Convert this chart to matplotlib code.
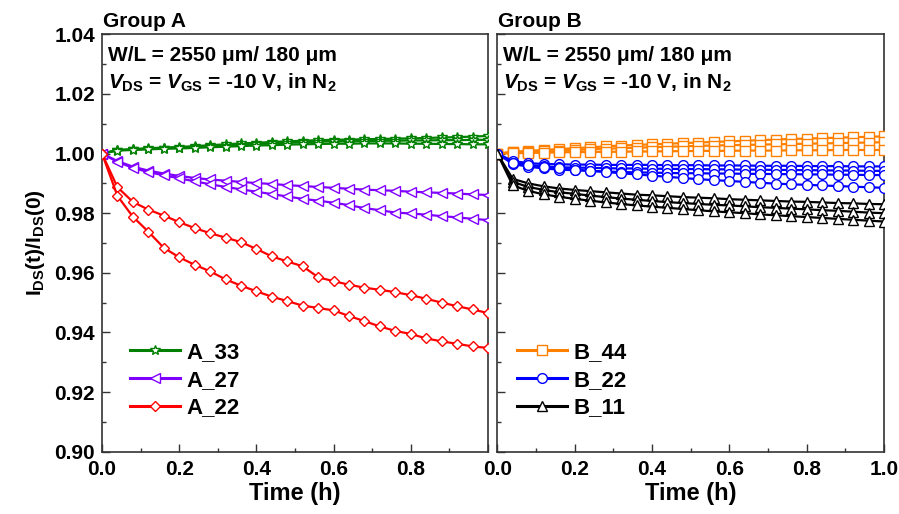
import matplotlib
matplotlib.use("Agg")
import matplotlib.pyplot as plt
from matplotlib.ticker import MultipleLocator, FixedLocator, FixedFormatter, FormatStrFormatter

plt.rcParams['font.family'] = ['Liberation Sans', 'DejaVu Sans']
plt.rcParams['font.weight'] = 'bold'
plt.rcParams['mathtext.fontset'] = 'custom'
plt.rcParams['mathtext.rm'] = 'Liberation Sans:bold'
plt.rcParams['mathtext.bf'] = 'Liberation Sans:bold'
plt.rcParams['mathtext.it'] = 'Liberation Sans:bold:italic'

# time grid (h)
time_h = [0.00, 0.04, 0.08, 0.12, 0.16, 0.20, 0.24, 0.28, 0.32, 0.36, 0.40,
          0.44, 0.48, 0.52, 0.56, 0.60, 0.64, 0.68, 0.72, 0.76, 0.80, 0.84,
          0.88, 0.92, 0.96, 1.00]

# Group A : normalised drain current I_DS(t)/I_DS(0)
a33_1 = [1.0000, 1.0012, 1.0015, 1.0018, 1.0020, 1.0022, 1.0025, 1.0028, 1.0031, 1.0034, 1.0036,
         1.0039, 1.0041, 1.0043, 1.0045, 1.0046, 1.0047, 1.0048, 1.0049, 1.0050, 1.0051, 1.0052,
         1.0054, 1.0055, 1.0057, 1.0059]
a33_2 = [1.0000, 1.0011, 1.0014, 1.0016, 1.0018, 1.0020, 1.0022, 1.0025, 1.0027, 1.0030, 1.0032,
         1.0034, 1.0036, 1.0038, 1.0040, 1.0041, 1.0041, 1.0042, 1.0043, 1.0043, 1.0044, 1.0044,
         1.0045, 1.0045, 1.0046, 1.0046]
a33_3 = [1.0000, 1.0010, 1.0012, 1.0014, 1.0016, 1.0017, 1.0019, 1.0021, 1.0023, 1.0025, 1.0027,
         1.0028, 1.0030, 1.0031, 1.0032, 1.0033, 1.0033, 1.0034, 1.0034, 1.0034, 1.0033, 1.0033,
         1.0032, 1.0032, 1.0031, 1.0031]
a27_1 = [1.0000, 0.9975, 0.9956, 0.9943, 0.9933, 0.9925, 0.9918, 0.9913, 0.9909, 0.9905, 0.9901,
         0.9898, 0.9894, 0.9891, 0.9888, 0.9885, 0.9882, 0.9879, 0.9877, 0.9875, 0.9872, 0.9870,
         0.9868, 0.9866, 0.9863, 0.9861]
a27_2 = [1.0000, 0.9972, 0.9952, 0.9938, 0.9927, 0.9917, 0.9907, 0.9897, 0.9888, 0.9880, 0.9872,
         0.9864, 0.9856, 0.9848, 0.9842, 0.9835, 0.9827, 0.9817, 0.9810, 0.9802, 0.9799, 0.9795,
         0.9790, 0.9786, 0.9781, 0.9777]
a22_1 = [1.0000, 0.9887, 0.9838, 0.9812, 0.9792, 0.9770, 0.9750, 0.9733, 0.9718, 0.9703, 0.9680,
         0.9655, 0.9638, 0.9622, 0.9585, 0.9572, 0.9560, 0.9550, 0.9543, 0.9535, 0.9525, 0.9513,
         0.9500, 0.9488, 0.9477, 0.9465]
a22_2 = [1.0000, 0.9858, 0.9788, 0.9738, 0.9684, 0.9652, 0.9627, 0.9605, 0.9578, 0.9557, 0.9538,
         0.9520, 0.9505, 0.9490, 0.9482, 0.9474, 0.9455, 0.9438, 0.9420, 0.9405, 0.9395, 0.9380,
         0.9370, 0.9362, 0.9353, 0.9348]

# Group B
b44_1 = [1.0000, 1.0006, 1.0009, 1.0012, 1.0015, 1.0018, 1.0021, 1.0024, 1.0027, 1.0029, 1.0031,
         1.0033, 1.0035, 1.0037, 1.0039, 1.0041, 1.0043, 1.0045, 1.0047, 1.0049, 1.0050, 1.0052,
         1.0053, 1.0055, 1.0056, 1.0058]
b44_2 = [1.0000, 1.0004, 1.0006, 1.0008, 1.0010, 1.0012, 1.0014, 1.0016, 1.0018, 1.0020, 1.0021,
         1.0023, 1.0024, 1.0026, 1.0027, 1.0028, 1.0029, 1.0030, 1.0031, 1.0032, 1.0033, 1.0034,
         1.0035, 1.0036, 1.0037, 1.0038]
b44_3 = [1.0000, 1.0001, 1.0002, 1.0003, 1.0004, 1.0005, 1.0005, 1.0006, 1.0006, 1.0007, 1.0007,
         1.0008, 1.0008, 1.0009, 1.0009, 1.0009, 1.0010, 1.0010, 1.0010, 1.0011, 1.0011, 1.0011,
         1.0012, 1.0012, 1.0012, 1.0012]
b22_1 = [1.0000, 0.9975, 0.9968, 0.9965, 0.9964, 0.9963, 0.9963, 0.9962, 0.9962, 0.9962, 0.9962,
         0.9961, 0.9961, 0.9961, 0.9960, 0.9960, 0.9960, 0.9959, 0.9959, 0.9959, 0.9958, 0.9958,
         0.9958, 0.9957, 0.9957, 0.9957]
b22_2 = [1.0000, 0.9970, 0.9962, 0.9957, 0.9954, 0.9953, 0.9952, 0.9951, 0.9950, 0.9950, 0.9949,
         0.9949, 0.9948, 0.9948, 0.9947, 0.9947, 0.9946, 0.9946, 0.9945, 0.9945, 0.9944, 0.9944,
         0.9943, 0.9943, 0.9942, 0.9942]
b22_3 = [1.0000, 0.9965, 0.9956, 0.9950, 0.9946, 0.9944, 0.9942, 0.9940, 0.9938, 0.9937, 0.9936,
         0.9935, 0.9934, 0.9934, 0.9933, 0.9933, 0.9932, 0.9932, 0.9931, 0.9931, 0.9930, 0.9930,
         0.9929, 0.9929, 0.9928, 0.9928]
b22_4 = [1.0000, 0.9968, 0.9960, 0.9954, 0.9950, 0.9946, 0.9942, 0.9938, 0.9934, 0.9930, 0.9926,
         0.9922, 0.9918, 0.9914, 0.9911, 0.9908, 0.9905, 0.9902, 0.9899, 0.9897, 0.9895, 0.9893,
         0.9891, 0.9889, 0.9887, 0.9885]
b11_1 = [1.0000, 0.9915, 0.9900, 0.9890, 0.9883, 0.9878, 0.9874, 0.9870, 0.9866, 0.9862, 0.9860,
         0.9857, 0.9854, 0.9852, 0.9850, 0.9847, 0.9845, 0.9843, 0.9841, 0.9839, 0.9838, 0.9836,
         0.9834, 0.9833, 0.9831, 0.9830]
b11_2 = [1.0000, 0.9905, 0.9888, 0.9878, 0.9870, 0.9865, 0.9859, 0.9854, 0.9849, 0.9845, 0.9841,
         0.9837, 0.9834, 0.9831, 0.9828, 0.9826, 0.9823, 0.9820, 0.9818, 0.9815, 0.9813, 0.9810,
         0.9808, 0.9805, 0.9802, 0.9800]
b11_3 = [1.0000, 0.9893, 0.9875, 0.9863, 0.9855, 0.9848, 0.9842, 0.9836, 0.9831, 0.9826, 0.9822,
         0.9818, 0.9814, 0.9810, 0.9806, 0.9803, 0.9800, 0.9796, 0.9793, 0.9790, 0.9787, 0.9784,
         0.9781, 0.9778, 0.9775, 0.9772]

group_a = [
    ("A_33", "#008000", "*", 7.5, [a33_1, a33_2, a33_3]),
    ("A_27", "#8000ff", "<", 7, [a27_1, a27_2]),
    ("A_22", "#ff0000", "D", 5.5, [a22_1, a22_2]),
]
group_b = [
    ("B_44", "#ff8000", "s", 6.5, [b44_1, b44_2, b44_3]),
    ("B_22", "#0000ff", "o", 7, [b22_1, b22_2, b22_3, b22_4]),
    ("B_11", "#000000", "^", 7, [b11_1, b11_2, b11_3]),
]

x_ticks = [0.0, 0.2, 0.4, 0.6, 0.8, 1.0]
x_labels_a = ['0.0', '0.2', '0.4', '0.6', '0.8', '']
x_labels_b = ['0.0', '0.2', '0.4', '0.6', '0.8', '1.0']

W, H = 899, 514
fig = plt.figure(figsize=(W / 100, H / 100), dpi=100)


def fx(px):
    return px / W


def fy(py):
    return 1 - py / H


ax_a = fig.add_axes([fx(102), fy(451.7), 386 / W, 417.4 / H])
ax_b = fig.add_axes([fx(497.3), fy(451.7), 386.7 / W, 417.4 / H])

spine_col = '#333333'
for ax, group, xl in ((ax_a, group_a, x_labels_a), (ax_b, group_b, x_labels_b)):
    for label, col, mk, ms, curves in group:
        for i, y in enumerate(curves):
            ax.plot(time_h, y, color=col, lw=1.6, marker=mk, ms=ms,
                    mfc='white', mec=col, mew=1.0,
                    label=label if i == 0 else None, zorder=3)
    ax.set_xlim(0, 1.0)
    ax.set_ylim(0.90, 1.04)
    for s in ax.spines.values():
        s.set_color(spine_col)
        s.set_linewidth(1.2)
    ax.xaxis.set_major_locator(FixedLocator(x_ticks))
    ax.xaxis.set_major_formatter(FixedFormatter(xl))
    ax.xaxis.set_minor_locator(MultipleLocator(0.1))
    ax.yaxis.set_major_locator(MultipleLocator(0.02))
    ax.yaxis.set_minor_locator(MultipleLocator(0.01))
    ax.tick_params(which='both', direction='in', top=False, right=False,
                   color=spine_col, width=1.0)
    ax.tick_params(which='major', length=6)
    ax.tick_params(which='minor', length=3)
    ax.tick_params(axis='x', pad=6, labelsize=15)
    ax.set_xlabel('Time (h)', fontsize=17, fontweight='bold', labelpad=2)

ax_b.tick_params(axis='y', labelleft=False)
ax_a.tick_params(axis='y', labelsize=15, pad=5)
ax_a.yaxis.set_major_formatter(FormatStrFormatter('%.2f'))

ax_a.set_ylabel(r'I$_{\rm DS}$(t)/I$_{\rm DS}$(0)', fontsize=15, fontweight='bold',
                labelpad=5)

# headings and measurement conditions
for x0, name in ((103, 'Group A'), (498, 'Group B')):
    fig.text(fx(x0), fy(27), name, fontsize=15, fontweight='bold', va='baseline')
    fig.text(fx(x0 + 5), fy(61), 'W/L = 2550 \u03bcm/ 180 \u03bcm', fontsize=15,
             fontweight='bold', va='baseline')
    fig.text(fx(x0 + 5), fy(89),
             r'$\mathit{V}_{\rm DS}$ = $\mathit{V}_{\rm GS}$ = -10 V, in N$_{2}$',
             fontsize=15, fontweight='bold', va='baseline')

# legends
for ax, x0 in ((ax_a, 130), (ax_b, 517)):
    leg = ax.legend(loc='upper left', bbox_to_anchor=(fx(x0), fy(342)),
                    bbox_transform=fig.transFigure, frameon=False,
                    handlelength=2.25, handletextpad=0.3,
                    labelspacing=0.3, borderpad=0, borderaxespad=0,
                    numpoints=1, prop={'weight': 'bold', 'size': 16})
    for ln in leg.get_lines():
        ln.set_linewidth(2.2)

fig.savefig('out.png', dpi=100)
